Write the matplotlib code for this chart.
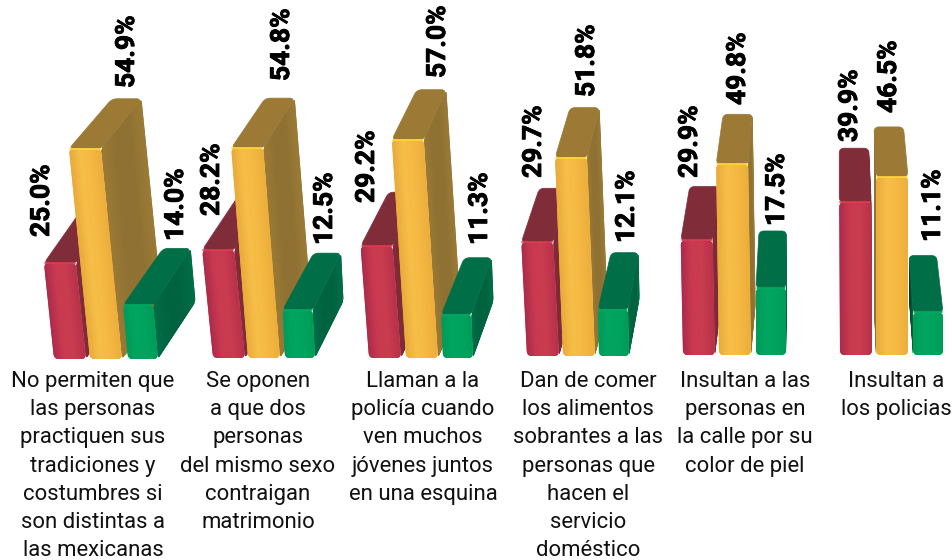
import numpy as np
import matplotlib
matplotlib.use('Agg')
import matplotlib.pyplot as plt
import matplotlib.patheffects as pe
from matplotlib.colors import LinearSegmentedColormap
from matplotlib.patches import PathPatch, Polygon
from matplotlib.path import Path

# values (percent)
rojo = [25.0, 28.2, 29.2, 29.7, 29.9, 39.9]
amarillo = [54.9, 54.8, 57.0, 51.8, 49.8, 46.5]
verde = [14.0, 12.5, 11.3, 12.1, 17.5, 11.1]

categorias = [
    ['No permiten que', 'las personas', 'practiquen sus', 'tradiciones y',
     'costumbres si', 'son distintas a', 'las mexicanas'],
    ['Se oponen', 'a que dos', 'personas', 'del mismo sexo', 'contraigan', 'matrimonio'],
    ['Llaman a la', 'policía cuando', 'ven muchos', 'jóvenes juntos', 'en una esquina'],
    ['Dan de comer', 'los alimentos', 'sobrantes a las', 'personas que', 'hacen el',
     'servicio', 'doméstico'],
    ['Insultan a las', 'personas en', 'la calle por su', 'color de piel'],
    ['Insultan a', 'los policias'],
]

# geometry of the fake perspective, in pixels
PX = 3.83
Y0 = 358
BACK_SHRINK = 2.5
base_y = [359, 358, 358, 356, 355, 355]
cat_x = [93, 258, 423, 588, 745, 896]

series = [
    dict(vals=rojo, left=[54, 213, 369, 527, 683, 840], width=32,
         tilt=[.105, .10, .075, .05, .02, .005], dx=[38, 36, 28, 18, 9, 0], dy=54,
         front=['#A92A49', '#C93A50', '#C93C4E', '#B8304A'], top='#812D39', side='#7E2936',
         edge='#E03A50',
         lab_x=[42, 212, 367, 534, 690, 850], lab_y=[237, 216, 203, 178, 178, 142]),
    dict(vals=amarillo, left=[90, 248, 406, 563, 719, 876], width=32,
         tilt=[.10, .08, .065, .04, .015, 0], dx=[43, 34, 25, 15, 7, -2], dy=50,
         front=['#E8A93A', '#F6BE48', '#F4B942', '#EDAE3C'], top='#9C7A36', side='#8F7233',
         edge='#FFD83A',
         lab_x=[127, 282, 438, 587, 738, 889], lab_y=[88, 81, 78, 97, 105, 113]),
    dict(vals=verde, left=[128, 285, 443, 599, 756, 913], width=30,
         tilt=[.09, .05, .04, .02, 0, 0], dx=[40, 31, 23, 13, 3, -4], dy=57,
         front=['#009A58', '#00A560', '#00A35E', '#009C58'], top='#006F47', side='#00633F',
         edge='#00A964',
         lab_x=[176, 325, 480, 627, 777, 933], lab_y=[241, 245, 245, 243, 226, 242]),
]


def y_of(py):
    return (Y0 - py) / PX


def rounded(pts, r):
    # closed path with softened corners
    pts = np.array(pts, dtype=float)
    n = len(pts)
    verts, codes = [], []
    for i in range(n):
        p, a, b = pts[i], pts[i - 1], pts[(i + 1) % n]
        # corner radius is worked out in screen-like units
        sc = np.array([1.0, PX])
        va = (a - p) * sc
        vb = (b - p) * sc
        ra = min(r, np.hypot(*va) / 2)
        rb = min(r, np.hypot(*vb) / 2)
        start = p + va / np.hypot(*va) * ra / sc
        end = p + vb / np.hypot(*vb) * rb / sc
        verts += [start, p, end]
        codes += [Path.MOVETO if i == 0 else Path.LINETO, Path.CURVE3, Path.CURVE3]
    verts.append(verts[0])
    codes.append(Path.CLOSEPOLY)
    return Path(verts, codes)


def shaded(ax, quad, colors, r, z, steps=24):
    # quad = TL, TR, BR, BL; strips from left edge to right edge
    tl, tr, br, bl = [np.array(p, dtype=float) for p in quad]
    cmap = LinearSegmentedColormap.from_list('f', colors)
    clip = PathPatch(rounded(quad, r), facecolor=colors[1], edgecolor='none', zorder=z)
    ax.add_patch(clip)
    for k in range(steps):
        a, b = k / steps, (k + 1) / steps
        strip = [tl + (tr - tl) * a, tl + (tr - tl) * b, bl + (br - bl) * b, bl + (br - bl) * a]
        poly = Polygon(strip, closed=True, facecolor=cmap((a + b) / 2),
                       edgecolor=cmap((a + b) / 2), lw=0.4, zorder=z)
        ax.add_patch(poly)
        poly.set_clip_path(clip)


fig = plt.figure(figsize=(9.52, 5.6), dpi=100)
ax = fig.add_axes([0, 0, 1, 1])
ax.set_xlim(0, 952)
ax.set_ylim(y_of(560), y_of(0))
ax.axis('off')

z = 1
for g in range(6):
    y0 = y_of(base_y[g])
    for s in series:
        v = s['vals'][g]
        lx = s['left'][g]
        w = s['width']
        shift = v * PX * s['tilt'][g]
        dx = s['dx'][g]
        dy = s['dy'] / PX
        tl = (lx - shift, y0 + v)
        tr = (lx - shift + w, y0 + v)
        br = (lx + w, y0)
        bl = (lx, y0)
        btl = (tl[0] + dx, tl[1] + dy)
        btr = (tr[0] + dx - BACK_SHRINK, tr[1] + dy)
        bbr = (br[0] + dx - BACK_SHRINK, br[1] + dy)
        bbl = (bl[0] + dx, bl[1] + dy)

        # side walls, then the top, then the front
        dark = s['side']
        if dx >= 0:
            shaded(ax, [tr, btr, bbr, br], [s['top'], dark, dark, s['top']], 4, z)
        else:
            shaded(ax, [btl, tl, bl, bbl], ['#00301f' if s is series[2] else dark, dark], 2, z)
        z += 1
        ax.add_patch(PathPatch(rounded([tl, btl, btr, tr], 5), facecolor=s['top'],
                               edgecolor=s['top'], lw=0.5, zorder=z))
        z += 1
        shaded(ax, [tl, tr, br, bl], s['front'], 5, z)
        ax.plot([tl[0] + 1, tr[0] - 1], [tl[1], tr[1]], color=s['edge'], lw=1.2,
                solid_capstyle='round', zorder=z + 0.5)
        z += 1

# percentage labels
for s in series:
    for v, x, py in zip(s['vals'], s['lab_x'], s['lab_y']):
        ax.text(x, y_of(py), f'{v:.1f}%', rotation=90, ha='center', va='bottom',
                family='Roboto', fontweight='bold', fontsize=19, color='black', zorder=500,
                path_effects=[pe.withStroke(linewidth=0.6, foreground='black')])

# category captions, one text per line
for x, lineas in zip(cat_x, categorias):
    for i, linea in enumerate(lineas):
        ax.text(x, y_of(381.5 + i * 28.2), linea, ha='center', va='center',
                family='Roboto', fontsize=15.9, color='#111111', zorder=500)

fig.savefig('out.png', dpi=100)
